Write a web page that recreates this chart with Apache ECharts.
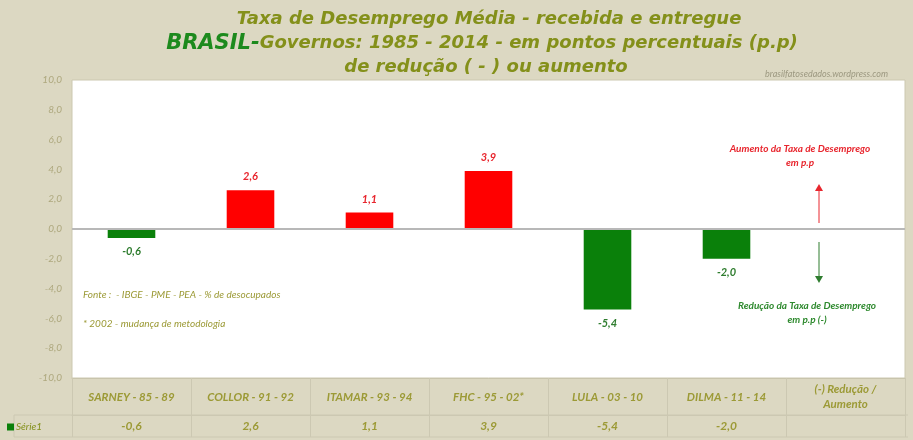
<!DOCTYPE html>
<html>
<head>
<meta charset="utf-8">
<script src="https://cdn.jsdelivr.net/npm/echarts@6/dist/echarts.min.js"></script>
<style>
  html, body { margin: 0; padding: 0; background: #dcd8c2; }
  #chart { width: 913px; height: 440px; }
</style>
</head>
<body>
<div id="chart"></div>
<script>
const categories = ['SARNEY - 85 - 89', 'COLLOR - 91 - 92', 'ITAMAR - 93 - 94', 'FHC - 95 - 02*', 'LULA - 03 - 10', 'DILMA - 11 - 14', '(-) Redução /\nAumento']
const values = [-0.6, 2.6, 1.1, 3.9, -5.4, -2.0, null]
const yTicks = { min: -10, max: 10, step: 2 }

const RED = '#ff0000'
const GREEN = '#0a800a'
const OLIVE = '#84901a'
const FONT = 'Lato'
const TFONT = 'DejaVu Sans'

const fmt = v => (v === null || v === undefined) ? '' : v.toFixed(1).replace('.', ',')

const barData = values.map(v => v === null ? '-' : {
  value: v,
  itemStyle: { color: v >= 0 ? RED : GREEN },
  label: {
    position: v >= 0 ? 'top' : 'bottom',
    color: v >= 0 ? '#e8262e' : '#2f7d2f'
  }
})

const titleStyle = { color: OLIVE, fontSize: 18, fontWeight: 'bold', fontStyle: 'italic', fontFamily: TFONT }

const myChart = echarts.init(document.getElementById('chart'))
const option = {
  backgroundColor: '#dcd8c2',
  textStyle: { fontFamily: FONT },
  title: [
    {
      text: 'Taxa de Desemprego Média - recebida e entregue',
      left: 484, top: 5, textAlign: 'center',
      textStyle: titleStyle
    },
    {
      text: '{b|BRASIL-}{t|Governos: 1985 - 2014 - em pontos percentuais (p.p)}',
      left: 477, top: 28, textAlign: 'center',
      textStyle: {
        rich: {
          b: { color: '#1d8a1d', fontSize: 21, fontWeight: 'bold', fontStyle: 'italic', fontFamily: TFONT },
          t: titleStyle
        }
      }
    },
    {
      text: 'de redução ( - ) ou aumento',
      left: 481, top: 53, textAlign: 'center',
      textStyle: titleStyle
    },
    {
      text: 'brasilfatosedados.wordpress.com',
      right: 20, top: 65,
      textStyle: { color: '#9c9880', fontSize: 9, fontWeight: 'normal', fontStyle: 'italic', fontFamily: FONT }
    }
  ],
  legend: {
    data: ['Série1'],
    left: 2, top: 417,
    itemWidth: 7, itemHeight: 7, itemGap: 4,
    icon: 'rect',
    textStyle: { color: OLIVE, fontSize: 10, fontStyle: 'italic', fontFamily: FONT, padding: [0, 0, 0, -3] }
  },
  grid: {
    left: 72, right: 8, top: 80, bottom: 62,
    show: true, backgroundColor: '#ffffff', borderColor: '#ccc8b0', borderWidth: 1
  },
  xAxis: [
    {
      type: 'category',
      data: categories,
      position: 'bottom',
      axisLine: { show: true, onZero: false, lineStyle: { color: '#c8c4ac' } },
      axisTick: { show: true, interval: 0, length: 59, lineStyle: { color: '#ccc8b2' } },
      axisLabel: {
        interval: 0, margin: 19, verticalAlign: 'middle', lineHeight: 15,
        color: '#9c9a36', fontSize: 11.5, fontStyle: 'italic', fontWeight: 'bold', fontFamily: FONT
      }
    },
    {
      type: 'category',
      data: values.map(fmt),
      position: 'bottom',
      offset: 37,
      axisLine: { show: true, onZero: false, lineStyle: { color: '#ccc8b2' } },
      axisTick: { show: false },
      axisLabel: {
        interval: 0, margin: 11, verticalAlign: 'middle',
        color: '#9c9a36', fontSize: 12, fontStyle: 'italic', fontWeight: 'bold', fontFamily: FONT
      }
    }
  ],
  yAxis: {
    type: 'value',
    min: yTicks.min, max: yTicks.max, interval: yTicks.step,
    axisLine: { show: false },
    axisTick: { show: false },
    splitLine: { show: false },
    axisLabel: {
      margin: 10,
      formatter: v => fmt(v),
      color: '#aea87e', fontSize: 10, fontStyle: 'italic', fontFamily: FONT
    }
  },
  series: [
    {
      name: 'Série1',
      type: 'bar',
      data: barData,
      barWidth: '40%',
      itemStyle: { color: GREEN },
      label: {
        show: true,
        formatter: p => fmt(p.value),
        fontSize: 11, fontWeight: 'bold', fontStyle: 'italic', fontFamily: FONT,
        distance: 8
      },
      markLine: {
        silent: true,
        symbol: 'none',
        label: { show: false },
        lineStyle: { color: '#b8b8b8', type: 'solid', width: 2 },
        data: [{ yAxis: 0 }]
      }
    }
  ],
  graphic: [
    { type: 'line', shape: { x1: 14, y1: 415, x2: 908, y2: 415 }, style: { stroke: '#ccc8b2', lineWidth: 1 }, silent: true },
    { type: 'line', shape: { x1: 14, y1: 437, x2: 908, y2: 437 }, style: { stroke: '#ccc8b2', lineWidth: 1 }, silent: true },
    { type: 'line', shape: { x1: 14, y1: 415, x2: 14, y2: 437 }, style: { stroke: '#ccc8b2', lineWidth: 1 }, silent: true },
    {
      type: 'text', x: 83, y: 290,
      style: { text: 'Fonte :  - IBGE - PME - PEA - % de desocupados', fill: '#9c9a36', font: 'italic 10px Lato' }
    },
    {
      type: 'text', x: 83, y: 319,
      style: { text: '* 2002 - mudança de metodologia', fill: '#9c9a36', font: 'italic 10px Lato' }
    },
    {
      type: 'text', x: 800, y: 142,
      style: { text: 'Aumento da Taxa de Desemprego\nem p.p', fill: '#e8262e', font: 'italic bold 10px Lato', align: 'center', lineHeight: 14 }
    },
    {
      type: 'text', x: 807, y: 299,
      style: { text: 'Redução da Taxa de Desemprego\nem p.p (-)', fill: '#2f8a2f', font: 'italic bold 10px Lato', align: 'center', lineHeight: 14 }
    },
    { type: 'line', shape: { x1: 819, y1: 223, x2: 819, y2: 190 }, style: { stroke: '#e8262e', lineWidth: 1 }, silent: true },
    { type: 'polygon', shape: { points: [[815, 191], [823, 191], [819, 184]] }, style: { fill: '#e8262e' }, silent: true },
    { type: 'line', shape: { x1: 819, y1: 242, x2: 819, y2: 277 }, style: { stroke: '#2f7d2f', lineWidth: 1 }, silent: true },
    { type: 'polygon', shape: { points: [[815, 276], [823, 276], [819, 283]] }, style: { fill: '#2f7d2f' }, silent: true }
  ]
}
myChart.setOption(option)
</script>
</body>
</html>
